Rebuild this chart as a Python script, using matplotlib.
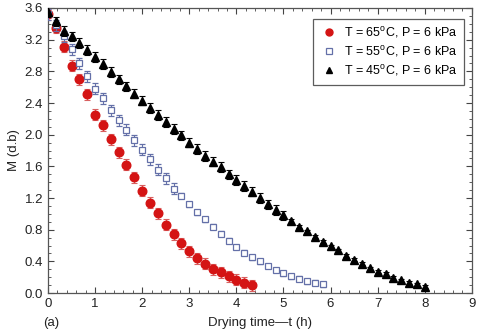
import matplotlib
matplotlib.use("Agg")
import matplotlib.pyplot as plt
from matplotlib.lines import Line2D
from matplotlib.ticker import MultipleLocator, FormatStrFormatter

plt.rcParams['font.family'] = ['Liberation Sans', 'DejaVu Sans']
plt.rcParams['mathtext.fontset'] = 'custom'
plt.rcParams['mathtext.rm'] = 'Liberation Sans'

# time step of 10 min (1/6 h)
step = 1 / 6.0

# moisture content M (d.b)
m_65 = [3.52, 3.35, 3.11, 2.87, 2.70, 2.51, 2.25, 2.12, 1.94, 1.78,
        1.62, 1.46, 1.29, 1.14, 1.01, 0.86, 0.74, 0.63, 0.53, 0.44,
        0.37, 0.30, 0.26, 0.21, 0.17, 0.13, 0.10]
m_55 = [3.52, 3.38, 3.24, 3.08, 2.90, 2.74, 2.58, 2.46, 2.31, 2.18,
        2.06, 1.93, 1.81, 1.69, 1.56, 1.45, 1.32, 1.23, 1.12, 1.02,
        0.93, 0.84, 0.75, 0.66, 0.58, 0.51, 0.45, 0.40, 0.34, 0.29,
        0.25, 0.21, 0.18, 0.15, 0.13, 0.11]
m_45 = [3.55, 3.43, 3.31, 3.24, 3.16, 3.07, 2.98, 2.89, 2.79, 2.70,
        2.61, 2.52, 2.43, 2.34, 2.25, 2.16, 2.07, 1.99, 1.90, 1.82,
        1.73, 1.66, 1.59, 1.50, 1.43, 1.35, 1.28, 1.20, 1.12, 1.05,
        0.98, 0.91, 0.84, 0.78, 0.71, 0.65, 0.59, 0.54, 0.47, 0.42,
        0.37, 0.31, 0.27, 0.24, 0.19, 0.16, 0.13, 0.11, 0.08]

# error bar half widths
err_65 = [0.07] * 27
err_55 = [0.07] * 17 + [0.03] * 19
err_45 = [0.06] * 31 + [0.02] * 18

t_65 = [i * step for i in range(len(m_65))]
t_55 = [i * step for i in range(len(m_55))]
t_45 = [i * step for i in range(len(m_45))]

labels = ['T = 65$^\\mathrm{o}$C, P = 6 kPa',
          'T = 55$^\\mathrm{o}$C, P = 6 kPa',
          'T = 45$^\\mathrm{o}$C, P = 6 kPa']

fig = plt.figure(figsize=(4.8, 3.33), dpi=100)
ax = fig.add_axes([0.1, 0.12, 0.883, 0.856])

ax.errorbar(t_65, m_65, yerr=err_65, fmt='o', color='#d41414', ms=6.2,
            ecolor='#d86060', elinewidth=0.8, capsize=2.5, capthick=0.8,
            zorder=3)
ax.errorbar(t_55, m_55, yerr=err_55, fmt='s', mfc='white', mec='#6470a8',
            mew=0.9, ms=4.8, ecolor='#6470a8', elinewidth=0.8, capsize=2.5,
            capthick=0.8, zorder=4)
ax.errorbar(t_45, m_45, yerr=err_45, fmt='^', color='black', ms=6,
            ecolor='black', elinewidth=0.8, capsize=2.5, capthick=0.8,
            zorder=5)

ax.set_xlim(0, 9)
ax.set_ylim(0, 3.6)
ax.xaxis.set_major_locator(MultipleLocator(1))
ax.xaxis.set_minor_locator(MultipleLocator(0.2))
ax.yaxis.set_major_locator(MultipleLocator(0.4))
ax.yaxis.set_minor_locator(MultipleLocator(0.1))
ax.yaxis.set_major_formatter(FormatStrFormatter('%.1f'))
ax.tick_params(which='both', direction='in', top=True, right=True,
               colors='#444444', labelcolor='#222222', labelsize=9.5)
ax.tick_params(which='major', length=4, width=0.8)
ax.tick_params(which='minor', length=2, width=0.6)
for s in ax.spines.values():
    s.set_color('#555555')
    s.set_linewidth(0.9)

ax.set_xlabel('Drying time\u2014t (h)', fontsize=9.5, color='#222222', labelpad=5)
ax.set_ylabel('M (d.b)', fontsize=9.5, color='#222222', labelpad=3)
fig.text(0.09, 0.02, '(a)', fontsize=9.5, color='#222222')

handles = [
    Line2D([], [], ls='none', marker='o', color='#d41414', ms=5),
    Line2D([], [], ls='none', marker='s', mfc='white', mec='#6470a8', mew=0.9, ms=4),
    Line2D([], [], ls='none', marker='^', color='black', ms=5),
]
leg = ax.legend(handles, labels, loc='upper right', fontsize=9, frameon=True,
                fancybox=False, edgecolor='#333333', handletextpad=0.5,
                borderpad=0.55, labelspacing=0.3, handlelength=1.4,
                bbox_to_anchor=(0.997, 0.985))
leg.get_frame().set_linewidth(0.9)

fig.savefig('out.png', dpi=100)
